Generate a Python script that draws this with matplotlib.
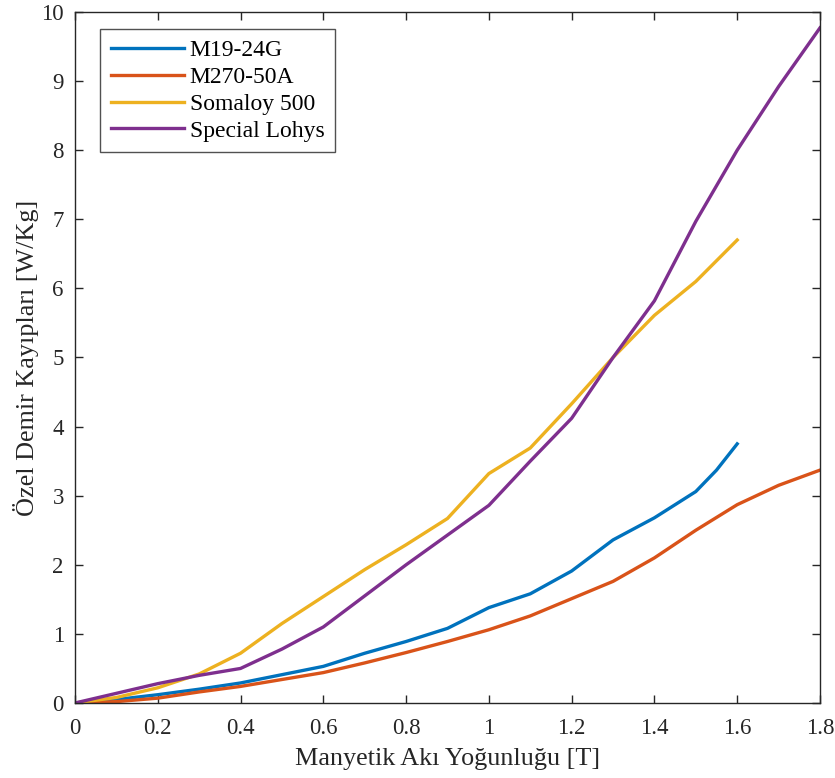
import matplotlib
matplotlib.use("Agg")
import matplotlib.pyplot as plt

plt.rcParams['font.family'] = ['Liberation Serif', 'DejaVu Serif']

x16 = [0, 0.1, 0.2, 0.3, 0.4, 0.5, 0.6, 0.7, 0.8, 0.9, 1.0, 1.1, 1.2, 1.3, 1.4, 1.5, 1.55, 1.6]
m19 = [0, 0.05, 0.12, 0.2, 0.29, 0.41, 0.53, 0.72, 0.89, 1.08, 1.38, 1.58, 1.91, 2.36, 2.68, 3.06, 3.37, 3.75]

x18 = [0, 0.1, 0.2, 0.3, 0.4, 0.5, 0.6, 0.7, 0.8, 0.9, 1.0, 1.1, 1.2, 1.3, 1.4, 1.5, 1.6, 1.7, 1.8]
m270 = [0, 0.02, 0.07, 0.16, 0.24, 0.34, 0.44, 0.58, 0.73, 0.89, 1.06, 1.26, 1.51, 1.76, 2.1, 2.5, 2.87, 3.15, 3.37]

xs = [0, 0.1, 0.2, 0.3, 0.4, 0.5, 0.6, 0.7, 0.8, 0.9, 1.0, 1.1, 1.2, 1.3, 1.4, 1.5, 1.6]
somaloy = [0, 0.08, 0.22, 0.42, 0.72, 1.15, 1.54, 1.93, 2.29, 2.67, 3.32, 3.69, 4.33, 5.0, 5.61, 6.1, 6.7]

lohys = [0, 0.14, 0.28, 0.4, 0.5, 0.78, 1.1, 1.55, 2.0, 2.43, 2.86, 3.5, 4.12, 5.0, 5.82, 6.97, 8.0, 8.92, 9.77]

labels = ['M19-24G', 'M270-50A', 'Somaloy 500', 'Special Lohys']
colors = ['#0072BD', '#D95319', '#EDB120', '#7E2F8E']

fig = plt.figure(figsize=(8.35, 7.78), dpi=100)
ax = fig.add_axes([0.0898, 0.0964, 0.8922, 0.8882])

lw = 2.4
ax.plot(x16, m19, color=colors[0], lw=lw, label=labels[0])
ax.plot(x18, m270, color=colors[1], lw=lw, label=labels[1])
ax.plot(xs, somaloy, color=colors[2], lw=lw, label=labels[2])
ax.plot(x18, lohys, color=colors[3], lw=lw, label=labels[3])

ax.set_xlim(0, 1.8)
ax.set_ylim(0, 10)
ax.set_xticks([0, 0.2, 0.4, 0.6, 0.8, 1.0, 1.2, 1.4, 1.6, 1.8])
ax.set_xticklabels(['0', '0.2', '0.4', '0.6', '0.8', '1', '1.2', '1.4', '1.6', '1.8'])
ax.set_yticks(range(0, 11))
ax.tick_params(direction='in', top=True, right=True, length=6, width=1,
               colors='#262626', labelsize=16.5)
ax.tick_params(axis='x', pad=11)
ax.tick_params(axis='y', pad=8)
for s in ax.spines.values():
    s.set_color('#262626')
    s.set_linewidth(1)

ax.set_xlabel('Manyetik Akı Yoğunluğu [T]', fontsize=18.8, color='#262626', labelpad=6)
ax.set_ylabel('Özel Demir Kayıpları [W/Kg]', fontsize=18.8, color='#262626', labelpad=1.5)

leg = ax.legend(loc='upper left', bbox_to_anchor=(0.0336, 0.975), fontsize=17,
                frameon=True, fancybox=False, edgecolor='#262626',
                handlelength=3.1, borderpad=0.45, labelspacing=0.22, handletextpad=0.25,
                borderaxespad=0)
leg.get_frame().set_linewidth(1)

fig.savefig('out.png', dpi=100)
